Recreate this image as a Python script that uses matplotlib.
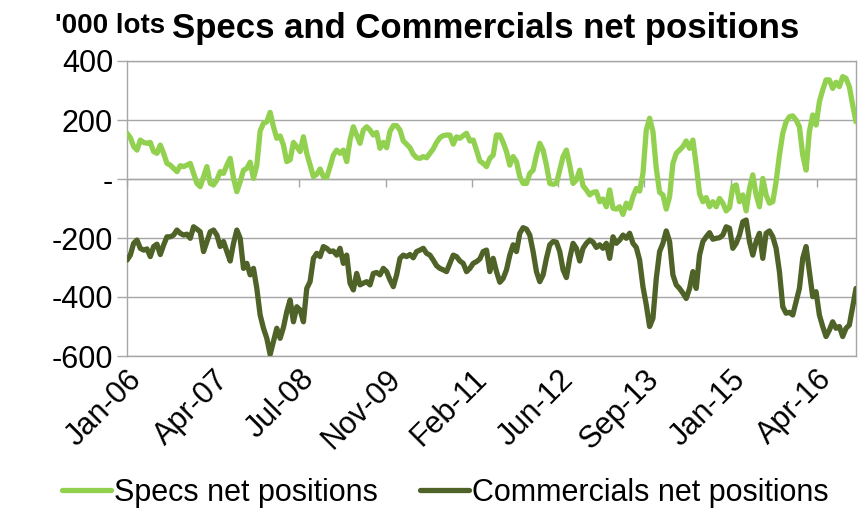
import numpy as np
import pandas as pd
import matplotlib
matplotlib.use("Agg")
import matplotlib.pyplot as plt
import matplotlib.dates as mdates
from matplotlib.ticker import FuncFormatter, FixedLocator

# Net positions, '000 lots, sampled roughly every 2.6 weeks
specs = [
    155, 140, 110, 98, 132, 124, 121, 124, 93, 87, 115, 87, 53, 47, 36, 25, 45, 42,
    47, 53, 19, -15, -26, 8, 42, -15, -20, -3, 25, 19, 47, 70, 2, -43, -9, 30,
    36, 57, 2, 47, 163, 189, 194, 226, 177, 138, 146, 115, 59, 65, 124, 110, 93, 143,
    87, 47, 8, 16, 34, 8, 5, 42, 81, 98, 87, 98, 59, 132, 177, 149, 121, 166, 177,
    166, 149, 158, 104, 124, 106, 161, 181, 181, 166, 129, 118, 106, 84, 72, 70, 76, 72,
    87, 102, 124, 140, 147, 149, 149, 118, 143, 138, 147, 155, 129, 132, 98, 61, 53, 42, 70,
    81, 149, 149, 124, 93, 47, 76, 59, 8, -15, -15, 19, 30, 81, 121, 98, 47, -15,
    -18, -15, 30, 76, 98, 47, -15, -3, 30, -23, -37, -54, -45, -43, -77, -68, -94, -37, -99,
    -102, -94, -120, -82, -99, -60, -32, -41, 19, 166, 206, 161, 36, -45, -54, -102, -60, 53,
    87, 98, 110, 129, 104, 132, 47, -49, -77, -63, -94, -77, -94, -66, -82, -108, -97, -26,
    -20, -77, -54, -108, -32, 14, -54, -94, 2, -54, -82, -77, -9, 81, 155, 194, 211, 214,
    200, 177, 81, 30, 161, 217, 183, 262, 302, 336, 336, 307, 328, 313, 347, 341, 313, 251, 194,
]

commercials = [
    -275, -258, -218, -207, -235, -241, -237, -263, -229, -221, -256, -224, -196, -196, -190, -173, -184, -190,
    -187, -201, -162, -170, -179, -246, -212, -179, -173, -190, -229, -212, -246, -278, -218, -173, -201, -303,
    -286, -325, -303, -371, -461, -506, -540, -595, -551, -506, -540, -503, -450, -410, -484, -433, -444, -484,
    -371, -348, -269, -252, -263, -229, -235, -246, -244, -258, -235, -286, -258, -353, -376, -320, -359, -353, -348,
    -359, -320, -317, -325, -303, -314, -342, -365, -325, -269, -258, -263, -256, -267, -246, -241, -235, -252,
    -258, -275, -294, -303, -308, -314, -286, -258, -263, -278, -286, -314, -303, -286, -280, -271, -246, -241, -314,
    -269, -314, -350, -337, -308, -258, -223, -246, -184, -165, -170, -190, -246, -314, -348, -325, -269, -223,
    -212, -214, -246, -308, -334, -269, -218, -235, -278, -235, -218, -207, -214, -232, -223, -235, -218, -269, -196,
    -218, -207, -190, -201, -184, -218, -232, -275, -365, -427, -500, -472, -337, -246, -218, -176, -212, -325,
    -359, -371, -387, -405, -371, -314, -371, -258, -212, -196, -182, -204, -201, -199, -190, -162, -167, -235,
    -218, -190, -145, -139, -212, -258, -212, -184, -269, -184, -176, -196, -235, -314, -433, -455, -452, -461,
    -416, -371, -269, -229, -314, -399, -382, -461, -500, -534, -512, -484, -506, -500, -534, -506, -495, -433, -371,
]

first_date = "2006-01-03"
last_date = "2016-11-11"
tick_labels = ["Jan-06", "Apr-07", "Jul-08", "Nov-09", "Feb-11", "Jun-12", "Sep-13", "Jan-15", "Apr-16"]
tick_every_weeks = 67

dates = pd.date_range(first_date, last_date, periods=len(specs))
tick_dates = [pd.Timestamp(first_date) + pd.Timedelta(weeks=tick_every_weeks * k)
              for k in range(len(tick_labels))]

FONT = ["Liberation Sans", "DejaVu Sans"]
plt.rcParams["font.family"] = FONT

LIGHT = "#92D050"
DARK = "#4F6228"
GRID = "#A6A6A6"
FS = 22

fig = plt.figure(figsize=(8.65, 5.12), dpi=100)
W, H = 865, 512
ax = fig.add_axes([127 / W, 1 - 356 / H, (856 - 127) / W, (356 - 61) / H])

ax.plot(dates, specs, color=LIGHT, lw=3.8, solid_joinstyle="round",
        solid_capstyle="round", label="Specs net positions", zorder=3)
ax.plot(dates, commercials, color=DARK, lw=3.8, solid_joinstyle="round",
        solid_capstyle="round", label="Commercials net positions", zorder=3)

ax.set_xlim(dates[0], dates[-1])
ax.set_ylim(-600, 400)
ax.yaxis.set_major_locator(FixedLocator(range(-600, 401, 200)))
ax.yaxis.set_major_formatter(FuncFormatter(lambda v, _: "-" if v == 0 else f"{v:.0f}"))
ax.yaxis.grid(True, color=GRID, lw=1.0, zorder=0)
ax.set_axisbelow(True)

for s in ax.spines.values():
    s.set_color(GRID)
    s.set_linewidth(1.0)

ax.tick_params(axis="y", which="major", length=7, width=1.0, color=GRID,
               labelsize=FS, pad=3, direction="out")

tick_nums = mdates.date2num(tick_dates)
ax.set_xticks(tick_nums)
ax.set_xticklabels(tick_labels, rotation=45, ha="right", rotation_mode="anchor")
ax.tick_params(axis="x", length=0, labelsize=FS, pad=6)

# tick marks along the zero line
zero_frac = (0 - (-600)) / (400 - (-600))
sec = ax.secondary_xaxis(zero_frac)
sec.set_alignment("bottom")
sec.set_xticks(tick_nums)
sec.set_xticklabels([])
sec.tick_params(axis="x", length=6, width=1.0, color=GRID, direction="out")
for s in sec.spines.values():
    s.set_color(GRID)
    s.set_linewidth(1.0)

fig.text(165 / W, 1 - 33 / H, "'000 lots", fontsize=20, fontweight="bold",
         ha="right", va="baseline")
fig.text(172 / W, 1 - 38 / H, "Specs and Commercials net positions",
         fontsize=25, fontweight="bold", ha="left", va="baseline")

fig.legend(loc="center", bbox_to_anchor=(0.515, 1 - 493 / H), ncol=2, frameon=False,
           fontsize=FS, handlelength=1.6, handletextpad=0.1, columnspacing=1.4,
           borderpad=0.0)

fig.savefig("out.png", dpi=100)
